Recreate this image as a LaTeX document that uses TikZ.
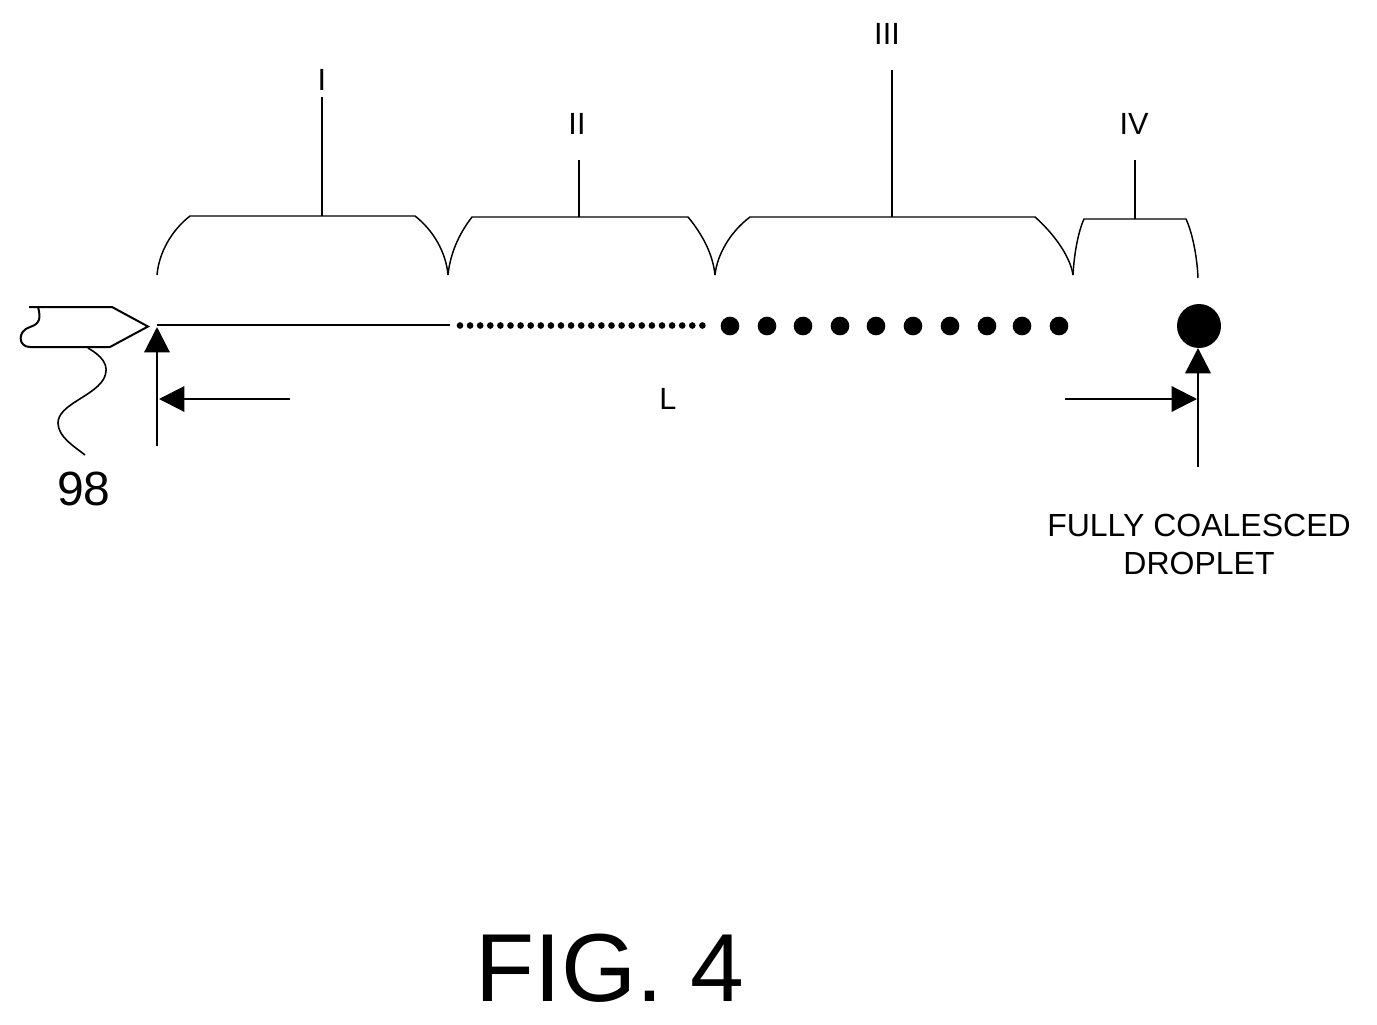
\documentclass[tikz,border=0pt]{standalone}
\usepackage{fontspec}
\setmainfont{Liberation Sans}
\usetikzlibrary{arrows.meta}
\tikzset{every picture/.style={line width=0.75pt}}
\tikzset{
  brace/.style={line width=1.1pt},
  stem/.style={line width=1.2pt},
  dim/.style={line width=1.6pt,-{Triangle[length=19pt,width=19pt]}},
  drop/.style={circle,fill=black,inner sep=0pt},
  numeral/.style={inner sep=0.75pt,font=\fontsize{23}{25}\selectfont},
}

\begin{document}
\begin{tikzpicture}[x=0.75pt,y=0.75pt,yscale=-1,xscale=1]
\useasboundingbox (0,0) rectangle (1377,1024);

%Nozzle
\draw [line width=1.5pt] (29,307) -- (112,307) -- (148,326.5) -- (110,347) -- (30,347) .. controls (18,347) and (17,331) .. (30,327) .. controls (40,324) and (41,318) .. (38,307) ;
\coordinate (tip) at (157,325);
\coordinate (tailend) at (450,325);
\draw [line width=1.5pt] (tip) -- (tailend);

%Lead line to 98
\node (num) at (84,489) [inner sep=0.75pt,font=\fontsize{36}{38}\selectfont] {98};
\coordinate (leadstart) at (88,348);
\coordinate (leadend) at (85,455);
\draw [line width=1.2pt] (leadstart) .. controls (100,355) and (112,365) .. (103,380) .. controls (92,397) and (58,405) .. (58,423) .. controls (58,437) and (75,447) .. (leadend);

%Fine droplets
\foreach \i in {0,...,24}
  \node (fine\i) [drop,minimum size=5pt] at (460+10.1*\i,325.5) {};

%Droplets
\foreach \i/\px in {0/730,1/767,2/803,3/840,4/876,5/913,6/950,7/987,8/1022,9/1059}
  \node (dot\i) [drop,minimum size=14pt] at (\px,326) {};
\node (big) [drop,minimum size=33pt] at (1199,326) {};

%Braces
\draw [brace] (157,275) .. controls (159,252) and (172,230) .. (190,216) -- (415,216) .. controls (433,230) and (446,252) .. (448,275);
\draw [brace] (448,275) .. controls (450,255) and (458,235) .. (472,217) -- (688,217) .. controls (703,235) and (713,255) .. (715,275);
\draw [brace] (715,275) .. controls (717,255) and (730,232) .. (750,217) -- (1035,217) .. controls (1052,232) and (1070,255) .. (1073,275);
\draw [brace] (1073,275) .. controls (1074,255) and (1078,232) .. (1084,219) -- (1186,219) .. controls (1192,232) and (1197,255) .. (1198,278);

%Labels with stems
\node (one) [numeral] at (322,80) {I};
\node (two) [numeral] at (577,124) {II};
\node (three) [numeral] at (887,34) {III};
\node (four) [numeral] at (1134,124) {IV};
\coordinate (onefoot) at (322,216);
\coordinate (twofoot) at (579,217);
\coordinate (threefoot) at (892,217);
\coordinate (fourfoot) at (1135,219);
\draw [line width=1.6pt] (322,97) -- (onefoot);
\draw [stem] (579,160) -- (twofoot);
\draw [line width=1.6pt] (892,70) -- (threefoot);
\draw [stem] (1135,160) -- (fourfoot);

%Length arrows
\node (len) [numeral] at (668,399) {L};
\coordinate (lefttail) at (157,446);
\coordinate (lefthead) at (157,327);
\coordinate (righttail) at (1198,467);
\coordinate (righthead) at (1198,348);
\coordinate (ltail) at (290,399);
\coordinate (lhead) at (159,399);
\coordinate (rtail) at (1065,399);
\coordinate (rhead) at (1197,399);
\draw [dim] (lefttail) -- (lefthead);
\draw [dim,line width=2pt] (righttail) -- (righthead);
\draw [dim] (ltail) -- (lhead);
\draw [dim] (rtail) -- (rhead);

% Text Node
\node (fully) at (1199,525) [inner sep=0.75pt,font=\fontsize{24}{26}\selectfont] {FULLY COALESCED};
\node (droplet) at (1199,563) [inner sep=0.75pt,font=\fontsize{24}{26}\selectfont] {DROPLET};
\node (fig) at (610,968) [inner sep=0.75pt,font=\fontsize{72.5}{78}\selectfont] {FIG. 4};

\end{tikzpicture}
\end{document}
